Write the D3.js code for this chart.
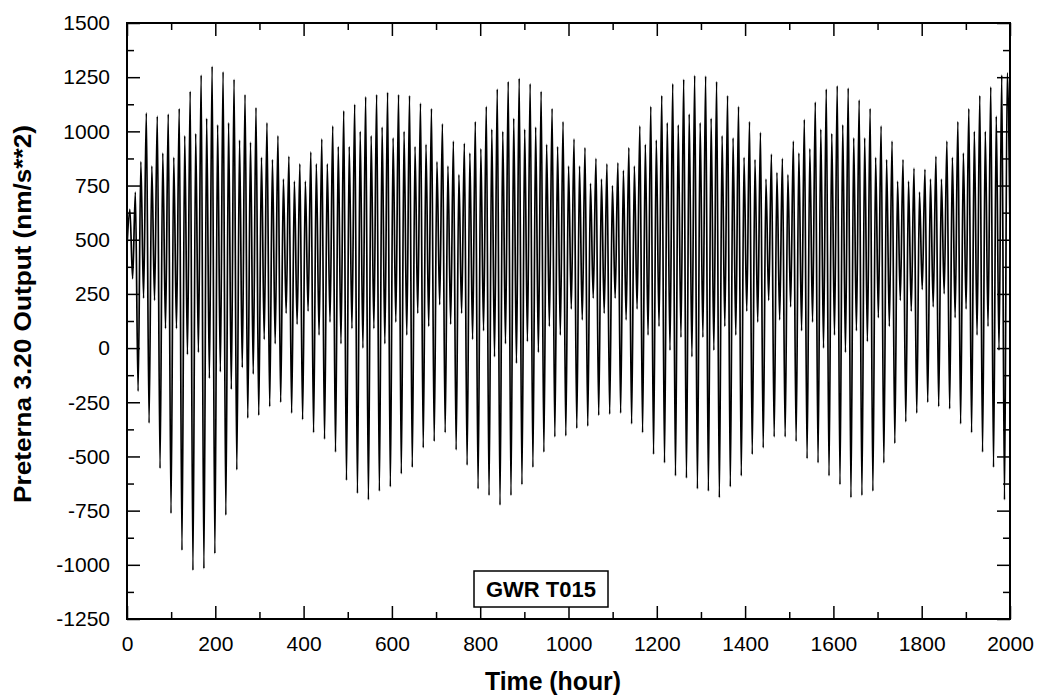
<!DOCTYPE html>
<html lang="en">
<head>
<meta charset="UTF-8">
<title>GWR T015 - Preterna 3.20 output</title>
<script src="https://d3js.org/d3.v7.min.js"></script>
<style>
  body { margin: 0; background: #fff; }
  svg { display: block; font-family: 'Liberation Sans', Arial, Helvetica, sans-serif; }
  .axis path { display: none; }
  .axis line { stroke: #000; stroke-width: 1.5px; }
  .axis text { font-size: 21px; fill: #000; }
  .frame { fill: none; stroke: #000; stroke-width: 2px; }
  .signal { fill: none; stroke: #000; stroke-width: 1.7px; }
</style>
</head>
<body>
<svg width="1054" height="697"></svg>
<script>
// axis ticks
const hourTicks = [0, 200, 400, 600, 800, 1000, 1200, 1400, 1600, 1800, 2000];
const hourMinor = [100, 300, 500, 700, 900, 1100, 1300, 1500, 1700, 1900];
const gravTicks = [-1250, -1000, -750, -500, -250, 0, 250, 500, 750, 1000, 1250, 1500];
const gravMinor = [-1125, -875, -625, -375, -125, 125, 375, 625, 875, 1125, 1375];

// extremes of the record, one entry per day (nm/s**2)
// each day: deep trough, lower peak, shallow trough, high peak (6.21 h apart)
const firstHour = 0.3;
const halfCycle = 6.21;
const deepTroughs = [
  480, -199, -346, -555, -763, -933, -1026, -1018, -948, -771,
  -562, -323, -310, -270, -250, -300, -330, -390, -420, -480,
  -610, -670, -700, -660, -640, -580, -550, -460, -430, -390,
  -470, -540, -650, -680, -725, -680, -630, -550, -480, -410,
  -405, -370, -360, -310, -305, -300, -350, -390, -490, -530,
  -590, -600, -650, -660, -690, -640, -590, -490, -460, -410,
  -410, -430, -510, -530, -590, -630, -690, -680, -660, -530,
  -440, -340, -300, -250, -270, -280, -350, -390, -480, -550,
  -700
];
const lowerPeaks = [
  640, 860, 840, 900, 880, 980, 990, 1060, 1030, 1040,
  960, 950, 880, 870, 780, 770, 770, 850, 850, 930,
  930, 1000, 980, 1020, 970, 1000, 930, 940, 860, 840,
  800, 900, 920, 1010, 1000, 1060, 1010, 1020, 940, 930,
  840, 840, 760, 780, 750, 820, 840, 940, 960, 1040,
  1030, 1080, 1040, 1060, 980, 970, 880, 870, 780, 810,
  800, 900, 920, 1010, 990, 1030, 970, 970, 880, 870,
  770, 770, 720, 780, 780, 880, 900, 1000, 1000, 1070,
  1270
];
const shallowTroughs = [
  320, 230, 220, 90, 90, -30, -20, -140, -110, -190,
  -90, -120, 40, 20, 160, 110, 170, 60, 120, 20,
  90, 0, 90, 20, 120, 60, 160, 100, 200, 110,
  160, 40, 80, -40, 20, -70, 30, -20, 100, 60,
  180, 130, 230, 160, 230, 130, 180, 60, 100, -10,
  50, -40, 50, -10, 100, 60, 170, 120, 220, 130,
  190, 80, 120, 0, 60, -20, 80, 30, 140, 100,
  220, 170, 270, 190, 250, 140, 180, 60, 100, -10,
  560
];
const highPeaks = [
  720, 1085, 1070, 1080, 1105, 1185, 1260, 1300, 1275, 1240,
  1170, 1110, 1040, 980, 885, 850, 905, 965, 1025, 1095,
  1125, 1160, 1170, 1180, 1170, 1165, 1130, 1105, 1035, 955,
  945, 1045, 1115, 1195, 1230, 1245, 1220, 1185, 1105, 1045,
  965, 925, 875, 850, 855, 925, 1025, 1115, 1165, 1220,
  1240, 1258, 1255, 1230, 1165, 1115, 1045, 995, 895, 875,
  955, 1055, 1135, 1195, 1210, 1200, 1145, 1105, 1025, 955,
  870, 830, 825, 885, 955, 1045, 1105, 1165, 1205, 1260
];

const series = [];
deepTroughs.forEach((_, d) => {
  [deepTroughs[d], lowerPeaks[d], shallowTroughs[d], highPeaks[d]].forEach((v, j) => {
    const t = firstHour + (4 * d + j) * halfCycle;
    if (v !== undefined && t <= 2000) series.push({ t, v });
  });
});

const width = 1054, height = 697;
const margin = { top: 23, right: 44, bottom: 78, left: 127 };

const svg = d3.select('svg');

const x = d3.scaleLinear().domain([0, 2000]).range([margin.left, width - margin.right]);
const y = d3.scaleLinear().domain([-1250, 1500]).range([height - margin.bottom, margin.top]);

svg.append('defs').append('clipPath').attr('id', 'plot')
  .append('rect')
  .attr('x', x(0)).attr('y', y(1500))
  .attr('width', x(2000) - x(0)).attr('height', y(-1250) - y(1500));

// signal
svg.append('path')
  .datum(series)
  .attr('class', 'signal')
  .attr('clip-path', 'url(#plot)')
  .attr('d', d3.line().x(d => x(d.t)).y(d => y(d.v)).curve(d3.curveMonotoneX));

// axes, ticks pointing inward on all four sides
const major = 13, minor = 7;
const plain = d => String(d);

svg.append('g').attr('class', 'axis')
  .attr('transform', `translate(0,${y(-1250)})`)
  .call(d3.axisBottom(x).tickValues(hourTicks).tickSize(-major).tickPadding(17).tickFormat(plain));
svg.append('g').attr('class', 'axis')
  .attr('transform', `translate(0,${y(-1250)})`)
  .call(d3.axisBottom(x).tickValues(hourMinor).tickSize(-minor).tickFormat(''));
svg.append('g').attr('class', 'axis')
  .attr('transform', `translate(0,${y(1500)})`)
  .call(d3.axisTop(x).tickValues(hourTicks).tickSize(-major).tickFormat(''));
svg.append('g').attr('class', 'axis')
  .attr('transform', `translate(0,${y(1500)})`)
  .call(d3.axisTop(x).tickValues(hourMinor).tickSize(-minor).tickFormat(''));

svg.append('g').attr('class', 'axis')
  .attr('transform', `translate(${x(0)},0)`)
  .call(d3.axisLeft(y).tickValues(gravTicks).tickSize(-major).tickPadding(17).tickFormat(plain));
svg.append('g').attr('class', 'axis')
  .attr('transform', `translate(${x(0)},0)`)
  .call(d3.axisLeft(y).tickValues(gravMinor).tickSize(-minor).tickFormat(''));
svg.append('g').attr('class', 'axis')
  .attr('transform', `translate(${x(2000)},0)`)
  .call(d3.axisRight(y).tickValues(gravTicks).tickSize(-major).tickFormat(''));
svg.append('g').attr('class', 'axis')
  .attr('transform', `translate(${x(2000)},0)`)
  .call(d3.axisRight(y).tickValues(gravMinor).tickSize(-minor).tickFormat(''));

svg.append('rect')
  .attr('class', 'frame')
  .attr('x', x(0)).attr('y', y(1500))
  .attr('width', x(2000) - x(0)).attr('height', y(-1250) - y(1500));

// axis titles
svg.append('text')
  .attr('x', 553).attr('y', 690)
  .attr('text-anchor', 'middle')
  .style('font-size', '25px').style('font-weight', 'bold')
  .attr('textLength', 136).attr('lengthAdjust', 'spacingAndGlyphs')
  .text('Time (hour)');

svg.append('text')
  .attr('transform', 'translate(31,314) rotate(-90)')
  .attr('text-anchor', 'middle')
  .style('font-size', '24px').style('font-weight', 'bold')
  .attr('textLength', 378).attr('lengthAdjust', 'spacingAndGlyphs')
  .text('Preterna 3.20 Output (nm/s**2)');

// station label
const label = svg.append('g').attr('transform', 'translate(541,589)');
label.append('rect')
  .attr('x', -67).attr('y', -18).attr('width', 134).attr('height', 36)
  .attr('fill', '#fff').attr('stroke', '#000').attr('stroke-width', 1.5);
label.append('text')
  .attr('text-anchor', 'middle').attr('dy', '0.36em')
  .style('font-size', '22px').style('font-weight', 'bold')
  .text('GWR T015');
</script>
</body>
</html>
